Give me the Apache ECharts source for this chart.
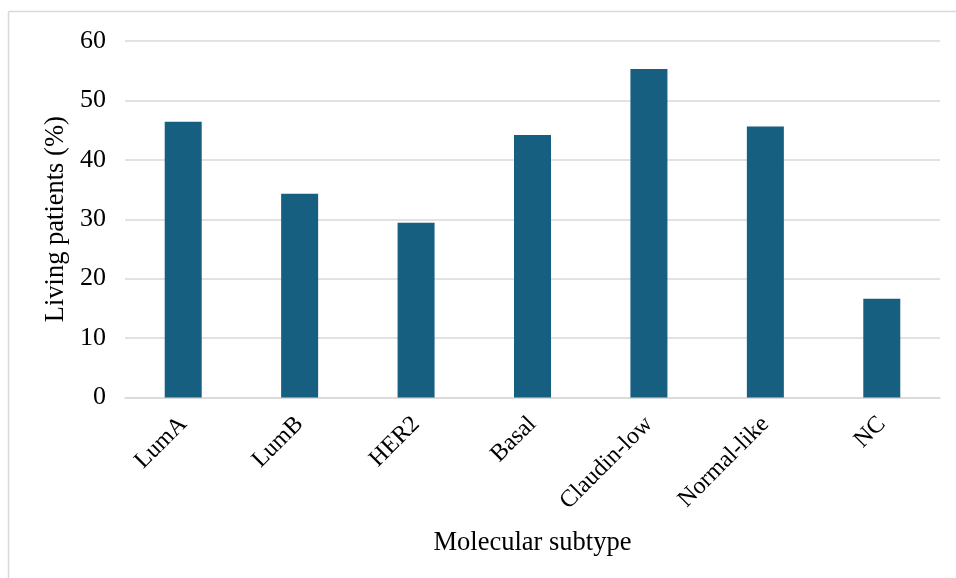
<!DOCTYPE html>
<html>
<head>
<meta charset="utf-8">
<script src="https://cdn.jsdelivr.net/npm/echarts@6/dist/echarts.min.js"></script>
<style>
html,body{margin:0;padding:0;background:#fff;}
#chart{width:956px;height:578px;}
</style>
</head>
<body>
<div id="chart"></div>
<script>
var categories = ['LumA', 'LumB', 'HER2', 'Basal', 'Claudin-low', 'Normal-like', 'NC'];
var livingPct = [46.4, 34.3, 29.4, 44.2, 55.3, 45.6, 16.6];
var yTicks = [0, 10, 20, 30, 40, 50, 60];

var font = '"Liberation Serif", "Times New Roman", serif';
var chart = echarts.init(document.getElementById('chart'), null, {renderer: 'canvas'});
chart.setOption({
  animation: false,
  backgroundColor: '#fff',
  graphic: [
    {type: 'line', shape: {x1: 8.5, y1: 11.5, x2: 956, y2: 11.5}, style: {stroke: '#d9d9d9', lineWidth: 1.5}},
    {type: 'line', shape: {x1: 8.5, y1: 11.5, x2: 8.5, y2: 578}, style: {stroke: '#d9d9d9', lineWidth: 1.5}}
  ],
  grid: {left: 125, right: 16, top: 41, bottom: 180.5, containLabel: false},
  xAxis: {
    type: 'category',
    data: categories,
    name: 'Molecular subtype',
    nameLocation: 'middle',
    nameGap: 132,
    nameTextStyle: {fontFamily: font, fontSize: 26.5, color: '#000'},
    axisLine: {show: true, lineStyle: {color: '#d9d9d9', width: 1.5}},
    axisTick: {show: false},
    axisLabel: {rotate: 45, margin: 23, fontFamily: font, fontSize: 24, color: '#000', interval: 0}
  },
  yAxis: {
    type: 'value',
    min: yTicks[0],
    max: yTicks[yTicks.length - 1],
    interval: 10,
    name: 'Living patients (%)',
    nameLocation: 'middle',
    nameRotate: 90,
    nameGap: 53,
    nameTextStyle: {fontFamily: font, fontSize: 26.5, color: '#000'},
    axisLine: {show: false},
    axisTick: {show: false},
    axisLabel: {margin: 19, fontFamily: font, fontSize: 26, color: '#000'},
    splitLine: {lineStyle: {color: '#d9d9d9', width: 1.5}}
  },
  series: [{
    type: 'bar',
    data: livingPct,
    barWidth: 37,
    itemStyle: {color: '#165f80'}
  }]
});
</script>
</body>
</html>
